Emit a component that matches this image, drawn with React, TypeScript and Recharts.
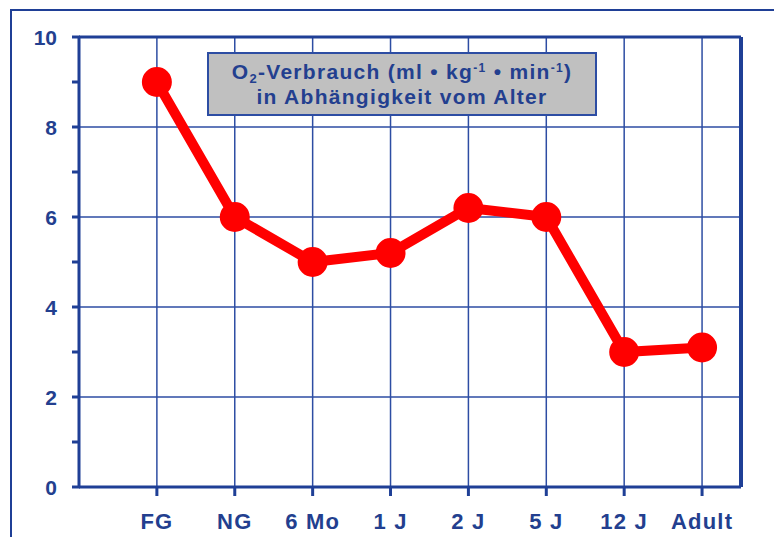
import React from "react";
import { LineChart, Line, XAxis, YAxis, CartesianGrid, ReferenceLine } from "recharts";

const categories = ["FG", "NG", "6 Mo", "1 J", "2 J", "5 J", "12 J", "Adult"];
const o2Values = [9.0, 6.0, 5.0, 5.2, 6.2, 6.0, 3.0, 3.1];
const yTicks = [0, 1, 2, 3, 4, 5, 6, 7, 8, 9, 10];
const yLabelTicks = [0, 2, 4, 6, 8, 10];
const xPositions = [1, 2, 3, 4, 5, 6, 7, 8];

const data = categories.map((c, i) => ({ x: xPositions[i], name: c, value: o2Values[i] }));

const BLUE = "#1f3f96";
const GRID = "#2d4da3";
const TEXT = "#233f8f";
const FONT = "'Liberation Sans', Arial, sans-serif";

const YTick = (props: any) => {
  const { x, y, payload } = props;
  const v = payload.value;
  const show = yLabelTicks.includes(v);
  return (
    <g>
      <line x1={x + 1} x2={x + 9} y1={y} y2={y} stroke={BLUE} strokeWidth={3} />
      {show && (
        <text x={x - 14} y={y} textAnchor="end" dominantBaseline="central" fill={TEXT}
          fontFamily={FONT} fontWeight="bold" fontSize={21}>{v}</text>
      )}
    </g>
  );
};

const XTick = (props: any) => {
  const { x, y, payload } = props;
  const idx = xPositions.indexOf(payload.value);
  return (
    <g>
      <line x1={x} x2={x} y1={y - 8} y2={y + 1} stroke={BLUE} strokeWidth={3} />
      <text x={x} y={y + 26} textAnchor="middle" dominantBaseline="central" fill={TEXT}
        fontFamily={FONT} fontWeight="bold" fontSize={22} letterSpacing={1.2}>{idx >= 0 ? categories[idx] : ""}</text>
    </g>
  );
};

export default function App() {
  return (
    <div style={{ position: "relative", width: 774, height: 529 }}>
      <div style={{ position: "absolute", left: 2, top: 1, width: 790, height: 540, borderLeft: `2px solid ${BLUE}`, borderTop: `2px solid ${BLUE}`, boxSizing: "border-box" }} />
      <LineChart width={774} height={529} data={data} margin={{ top: 29, right: 41, left: 21, bottom: 10 }}>
        <CartesianGrid stroke={GRID} strokeWidth={1.5} horizontalValues={[2, 4, 6, 8]} verticalValues={xPositions} />
        <XAxis type="number" dataKey="x" domain={[0, 8.5]} ticks={xPositions} interval={0}
          axisLine={{ stroke: BLUE, strokeWidth: 3 }} tickLine={false} tick={<XTick />} height={40} allowDataOverflow />
        <YAxis type="number" domain={[0, 10]} ticks={yTicks} interval={0} width={50}
          axisLine={{ stroke: BLUE, strokeWidth: 3 }} tickLine={false} tick={<YTick />} />
        <ReferenceLine y={10} stroke={BLUE} strokeWidth={3} />
        <ReferenceLine x={8.5} stroke={BLUE} strokeWidth={4} />
        <Line type="linear" dataKey="value" stroke="#ff0000" strokeWidth={10} isAnimationActive={false}
          dot={{ r: 14, fill: "#ff0000", stroke: "#ff0000", strokeWidth: 2 }} activeDot={false} />
      </LineChart>
      <div style={{ position: "absolute", left: 199, top: 44, width: 390, height: 64, boxSizing: "border-box", background: "#c0c0c0", border: `2px solid ${GRID}`, color: TEXT, fontFamily: FONT, fontWeight: "bold", fontSize: 21, letterSpacing: 1.3, textAlign: "center", lineHeight: "25px", paddingTop: 5 }}>
        <div style={{ whiteSpace: "nowrap" }}>O<sub style={{ fontSize: 13, verticalAlign: "-4px", lineHeight: 0 }}>2</sub>-Verbrauch (ml • kg<sup style={{ fontSize: 12, lineHeight: 0, verticalAlign: "7px" }}>-1</sup> • min<sup style={{ fontSize: 12, lineHeight: 0, verticalAlign: "7px" }}>-1</sup>)</div>
        <div style={{ whiteSpace: "nowrap" }}>in Abhängigkeit vom Alter</div>
      </div>
    </div>
  );
}
